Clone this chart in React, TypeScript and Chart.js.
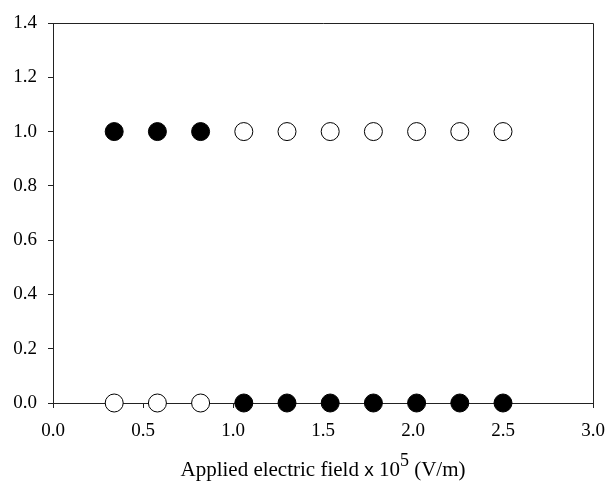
import React, { useEffect, useRef } from "react";
import { Chart, registerables } from "chart.js";

Chart.register(...registerables);

const fieldValues = [0.34, 0.58, 0.82, 1.06, 1.30, 1.54, 1.78, 2.02, 2.26, 2.50];
const upperValues = [1, 1, 1, 1, 1, 1, 1, 1, 1, 1];
const lowerValues = [0, 0, 0, 0, 0, 0, 0, 0, 0, 0];
const upperFilled = [true, true, true, false, false, false, false, false, false, false];
const lowerFilled = [false, false, false, true, true, true, true, true, true, true];
const xTicks = [0, 0.5, 1.0, 1.5, 2.0, 2.5, 3.0];
const yTicks = [0, 0.2, 0.4, 0.6, 0.8, 1.0, 1.2, 1.4];
const titleMain = "Applied electric field";
const titleX = " x ";
const titleTen = "10";
const titleSup = "5";
const titleTail = " (V/m)";

const FONT = "'Liberation Serif', 'Times New Roman', serif";
const SANS = "'Liberation Sans', Arial, sans-serif";

const framePlugin = {
  id: "frame",
  beforeDatasetsDraw(chart: any) {
    const { ctx, chartArea } = chart;
    ctx.save();
    ctx.strokeStyle = "#222";
    ctx.lineWidth = 1;
    ctx.beginPath();
    ctx.moveTo(chartArea.left, chartArea.top + 0.5);
    ctx.lineTo(chartArea.right + 0.5, chartArea.top + 0.5);
    ctx.lineTo(chartArea.right + 0.5, chartArea.bottom);
    ctx.stroke();
    ctx.restore();
  },
  afterDraw(chart: any) {
    const { ctx, chartArea } = chart;
    ctx.save();
    ctx.fillStyle = "#000";
    ctx.textBaseline = "alphabetic";
    const parts = [
      { t: titleMain, f: `21px ${FONT}`, dy: 0 },
      { t: titleX, f: `19px ${SANS}`, dy: 0 },
      { t: titleTen, f: `21px ${FONT}`, dy: 0 },
      { t: titleSup, f: `18px ${FONT}`, dy: -10 },
      { t: titleTail, f: `21px ${FONT}`, dy: 0 },
    ];
    let total = 0;
    const widths = parts.map((p) => {
      ctx.font = p.f;
      const w = ctx.measureText(p.t).width;
      total += w;
      return w;
    });
    const cx = (chartArea.left + chartArea.right) / 2;
    let x = cx - total / 2;
    const y = 476;
    parts.forEach((p, i) => {
      ctx.font = p.f;
      ctx.fillText(p.t, x, y + p.dy);
      x += widths[i];
    });
    ctx.restore();
  },
};

export default function App() {
  const ref = useRef<HTMLCanvasElement>(null);
  useEffect(() => {
    if (!ref.current) return;
    const mk = (vals: number[]) => fieldValues.map((x, i) => ({ x, y: vals[i] }));
    const chart = new Chart(ref.current, {
      type: "scatter",
      data: {
        datasets: [
          {
            label: "upper",
            data: mk(upperValues),
            pointRadius: 9,
            pointHoverRadius: 9,
            pointBorderWidth: 1,
            pointBorderColor: "#000",
            pointBackgroundColor: upperFilled.map((f) => (f ? "#000" : "#fff")),
            clip: false as any,
          },
          {
            label: "lower",
            data: mk(lowerValues),
            pointRadius: 9,
            pointHoverRadius: 9,
            pointBorderWidth: 1,
            pointBorderColor: "#000",
            pointBackgroundColor: lowerFilled.map((f) => (f ? "#000" : "#fff")),
            clip: false as any,
          },
        ],
      },
      options: {
        animation: false,
        responsive: true,
        maintainAspectRatio: false,
        layout: { padding: { top: 23, right: 16, left: 0, bottom: 0 } },
        plugins: { legend: { display: false }, tooltip: { enabled: false } },
        scales: {
          x: {
            type: "linear",
            min: 0,
            max: 3,
            afterFit: (s: any) => {
              s.height = 85;
              s.paddingLeft = 0;
              s.paddingRight = 0;
            },
            afterBuildTicks: (s: any) => {
              s.ticks = xTicks.map((v) => ({ value: v }));
            },
            border: { display: true, color: "#222", width: 1 },
            grid: { drawOnChartArea: false, drawTicks: true, tickLength: 5, color: "#222" },
            ticks: {
              color: "#000",
              font: { family: FONT, size: 19 },
              padding: 12,
              maxRotation: 0,
              callback: (v: any) => Number(v).toFixed(1),
            },
          },
          y: {
            type: "linear",
            min: 0,
            max: 1.4,
            afterFit: (s: any) => {
              s.width = 53;
              s.paddingTop = 0;
              s.paddingBottom = 0;
            },
            afterBuildTicks: (s: any) => {
              s.ticks = yTicks.map((v) => ({ value: v }));
            },
            border: { display: true, color: "#222", width: 1 },
            grid: { drawOnChartArea: false, drawTicks: true, tickLength: 5, color: "#222" },
            ticks: {
              color: "#000",
              font: { family: FONT, size: 19 },
              padding: 11,
              callback: (v: any) => Number(v).toFixed(1),
            },
          },
        },
      },
      plugins: [framePlugin],
    });
    return () => chart.destroy();
  }, []);
  return (
    <div style={{ position: "fixed", left: 0, top: 0, width: 609, height: 488, background: "#fff" }}>
      <canvas ref={ref} />
    </div>
  );
}
